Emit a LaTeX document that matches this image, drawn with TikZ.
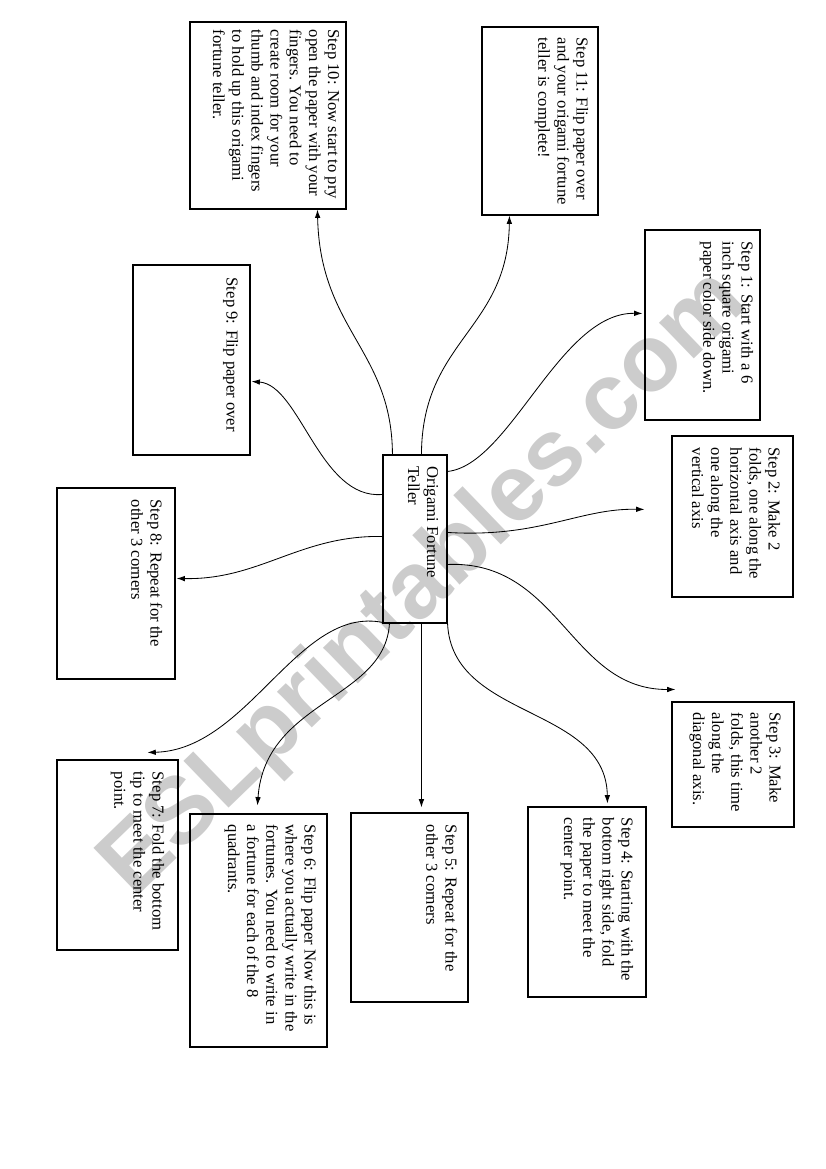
\documentclass[tikz,border=0pt]{standalone}
\usepackage{fontspec}
\setmainfont{Liberation Serif}
\newfontfamily\wmfont{Liberation Sans}
\usetikzlibrary{fit,calc,arrows.meta}
\begin{document}
\begin{tikzpicture}[x=0.72pt,y=-0.72pt,
  box/.style={draw, line width=0.8pt, inner sep=0pt, fit={#1}},
  txt/.style={rotate=-90, anchor=north west, align=left, inner sep=0pt, font=\fontsize{12}{13.8}\selectfont},
  conn/.style={line width=0.6pt, -{Latex[length=6pt,width=4pt]}},
  wm/.style={rotate=44, text=black!20, inner sep=0pt, font=\wmfont\bfseries\fontsize{68}{68}\selectfont}
]
\useasboundingbox (0,0) rectangle (826,1169);
\node[wm] (water) at (425,585) {ESLprintables.com};

% boxes
\node[box={(383,455) (447,623)}] (c) {};
\node[box={(190,22) (346,209)}] (s10) {};
\node[box={(482,27) (598,215)}] (s11) {};
\node[box={(645,230) (760,420)}] (s1) {};
\node[box={(672,436) (793,597)}] (s2) {};
\node[box={(672,702) (794,827)}] (s3) {};
\node[box={(528,807) (646,997)}] (s4) {};
\node[box={(351,813) (468,1002)}] (s5) {};
\node[box={(190,814) (327,1047)}] (s6) {};
\node[box={(57,760) (178,950)}] (s7) {};
\node[box={(57,488) (175,679)}] (s8) {};
\node[box={(133,265) (250,455)}] (s9) {};

% texts
\node[txt] (tc) at ($(c.north east)+(-9,12)$) {Origami Fortune\\Teller};
\node[txt] (t10) at ($(s10.north east)+(-7,8)$) {Step 10: Now start to pry\\open the paper with your\\fingers. You need to\\create room for your\\thumb and index fingers\\to hold up this origami\\fortune teller.};
\node[txt] (t11) at ($(s11.north east)+(-10,11)$) {Step 11: Flip paper over\\and your origami fortune\\teller is complete!};
\node[txt] (t1) at ($(s1.north east)+(-7,12)$) {Step 1: Start with a 6\\inch square origami\\paper color side down.};
\node[txt] (t2) at ($(s2.north east)+(-13,12)$) {Step 2: Make 2\\folds, one along the\\horizontal axis and\\one along the\\vertical axis};
\node[txt] (t3) at ($(s3.north east)+(-13,11)$) {Step 3: Make\\another 2\\folds, this time\\along the\\diagonal axis.};
\node[txt] (t4) at ($(s4.north east)+(-13,11)$) {Step 4: Starting with the\\bottom right side, fold\\the paper to meet the\\center point.};
\node[txt] (t5) at ($(s5.north east)+(-11,12)$) {Step 5: Repeat for the\\other 3 corners};
\node[txt] (t6) at ($(s6.north east)+(-11,11)$) {Step 6: Flip paper Now this is\\where you actually write in the\\fortunes. You need to write in\\a fortune for each of the 8\\quadrants.};
\node[txt] (t7) at ($(s7.north east)+(-14,12)$) {Step 7: Fold the bottom\\tip to meet the center\\point.};
\node[txt] (t8) at ($(s8.north east)+(-13,12)$) {Step 8: Repeat for the\\other 3 corners};
\node[txt] (t9) at ($(s9.north east)+(-12,13)$) {Step 9: Flip paper over};

% connectors
\draw[conn] ($(c.north west)+(10,0)$) .. controls (392,350) and (320,330) .. ($(s10.south west)+(128,0)$);
\draw[conn] ($(c.north west)+(39,0)$) .. controls (422,340) and (508,330) .. ($(s11.south west)+(28,0)$);
\draw[conn] ($(c.north east)+(0,17)$) .. controls (510,465) and (560,312) .. ($(s1.north west)+(-2,84)$);
\draw[conn] ($(c.north east)+(0,78)$) .. controls (540,538) and (580,508) .. ($(s2.north west)+(-27,74)$);
\draw[conn] ($(c.north east)+(0,110)$) .. controls (560,560) and (570,690) .. ($(s3.north west)+(4,-12)$);
\draw[conn] (c.south east) .. controls (452,720) and (606,705) .. ($(s4.north west)+(80,-3)$);
\draw[conn] ($(c.south west)+(39,0)$) -- ($(s5.north west)+(71,-5)$);
\draw[conn] ($(c.south west)+(7,0)$) .. controls (385,700) and (265,700) .. ($(s6.north west)+(68,-8)$);
\draw[conn] ($(c.south west)+(5,0)$) .. controls (300,600) and (250,750) .. ($(s7.north west)+(91,-7)$);
\draw[conn] ($(c.north west)+(0,82)$) .. controls (300,535) and (260,580) .. ($(s8.north east)+(1,91)$);
\draw[conn] ($(c.north west)+(0,40)$) .. controls (320,500) and (300,385) .. ($(s9.north east)+(1,117)$);
\end{tikzpicture}
\end{document}
